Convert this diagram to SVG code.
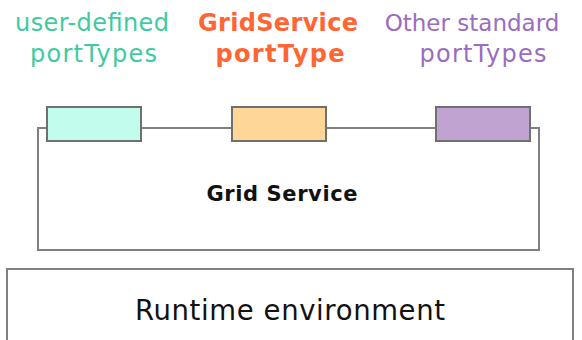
<svg xmlns="http://www.w3.org/2000/svg" width="582" height="340" viewBox="0 0 582 340">
  <style>
    .lbl { font-family: "DejaVu Sans", Verdana, sans-serif; font-size: 24px; text-anchor: middle; }
    .box { fill: #ffffff; stroke: #808080; stroke-width: 2; }
    .port { stroke: #707070; stroke-width: 2; }
  </style>
  <rect width="582" height="340" fill="#ffffff"/>

  <!-- port type captions -->
  <g id="label-user" class="lbl" fill="#3fcaa0">
    <text x="92" y="31" textLength="154" lengthAdjust="spacing">user-defined</text>
    <text x="93.5" y="62" textLength="127" lengthAdjust="spacing">portTypes</text>
  </g>
  <g id="label-grid" class="lbl" fill="#ff6633" font-weight="bold">
    <text x="278" y="31" textLength="160" lengthAdjust="spacing">GridService</text>
    <text x="280" y="62" textLength="129" lengthAdjust="spacing">portType</text>
  </g>
  <g id="label-other" class="lbl" fill="#9b6cbf">
    <text x="472" y="31" font-size="23">Other standard</text>
    <text x="483" y="62" textLength="127" lengthAdjust="spacing">portTypes</text>
  </g>

  <!-- service container -->
  <g id="grid-service">
    <rect class="box" x="38" y="128" width="501" height="122"/>
    <text x="282" y="201" font-family="'DejaVu Sans', Verdana, sans-serif" font-size="21" font-weight="bold" text-anchor="middle" fill="#111" textLength="151" lengthAdjust="spacing">Grid Service</text>
  </g>

  <!-- ports on the service boundary -->
  <g id="port-user"><rect class="port" x="47" y="107" width="94" height="34" fill="#c2fcec"/></g>
  <g id="port-grid"><rect class="port" x="232" y="107" width="94" height="34" fill="#fdd698"/></g>
  <g id="port-other"><rect class="port" x="436" y="107" width="94" height="34" fill="#c0a3d1"/></g>

  <!-- hosting environment -->
  <g id="runtime">
    <rect class="box" x="7" y="269" width="566" height="90"/>
    <text x="290" y="320" font-family="'DejaVu Sans', Verdana, sans-serif" font-size="27.5" text-anchor="middle" fill="#111" textLength="310" lengthAdjust="spacing">Runtime environment</text>
  </g>
</svg>
